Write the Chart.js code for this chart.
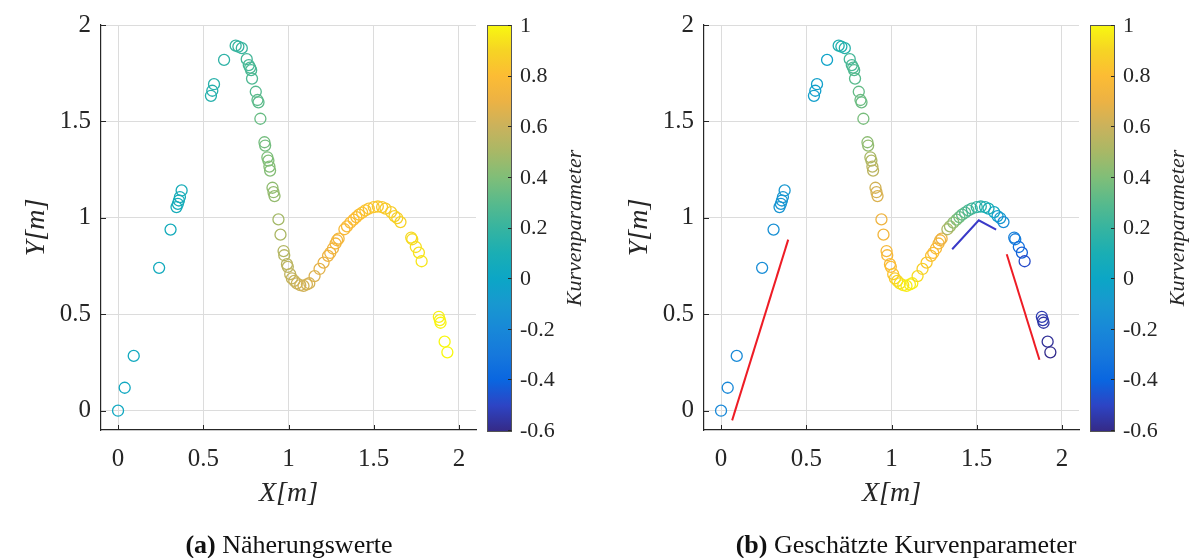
<!DOCTYPE html>
<html>
<head>
<meta charset="utf-8">
<script src="https://cdn.jsdelivr.net/npm/chart.js@4/dist/chart.umd.min.js"></script>
<style>
  body { margin: 0; background: #fff; width: 1194px; height: 558px; overflow: hidden; position: relative; font-family: "Liberation Serif", serif; }
  .panel { position: absolute; top: 0; width: 591px; height: 558px; }
  .cap { position: absolute; top: 530px; font-size: 26px; color: #111; white-space: nowrap; transform: translateX(-50%); }
</style>
</head>
<body>
<div class="panel" style="left:0"><canvas id="chartA" width="591" height="558"></canvas></div>
<div class="panel" style="left:603px"><canvas id="chartB" width="591" height="558"></canvas></div>
<div class="cap" style="left:289px"><b>(a)</b> Näherungswerte</div>
<div class="cap" style="left:906px"><b>(b)</b> Geschätzte Kurvenparameter</div>
<script>
// measured points (same positions in both panels)
const xVals = [0, 0.039, 0.092, 0.241, 0.308, 0.343, 0.351, 0.357, 0.363, 0.373,
  0.545, 0.553, 0.563, 0.622, 0.69, 0.706, 0.726,
  0.755, 0.767, 0.775, 0.781, 0.786, 0.808, 0.818, 0.824, 0.835,
  0.859, 0.863, 0.876, 0.882, 0.888, 0.892, 0.906, 0.912, 0.918,
  0.941, 0.953, 0.971, 0.975, 0.991, 0.996, 1.01, 1.02, 1.034, 1.049, 1.069, 1.088, 1.108, 1.122,
  1.153, 1.182, 1.206, 1.232, 1.245, 1.261, 1.276, 1.285, 1.294,
  1.328, 1.343, 1.363, 1.382, 1.398, 1.414, 1.432, 1.451, 1.471, 1.5, 1.524, 1.549, 1.569, 1.602, 1.622, 1.638, 1.657,
  1.72, 1.726, 1.747, 1.765, 1.781,
  1.882, 1.888, 1.892, 1.916, 1.932];
const yVals = [0, 0.119, 0.284, 0.741, 0.939, 1.056, 1.073, 1.09, 1.108, 1.142,
  1.633, 1.659, 1.693, 1.819, 1.893, 1.888, 1.88,
  1.823, 1.792, 1.779, 1.766, 1.722, 1.654, 1.611, 1.599, 1.514,
  1.392, 1.375, 1.314, 1.297, 1.266, 1.245, 1.156, 1.133, 1.113,
  0.992, 0.913, 0.828, 0.806, 0.76, 0.746, 0.708, 0.686, 0.673, 0.66, 0.651, 0.647, 0.655, 0.661,
  0.698, 0.735, 0.768, 0.803, 0.818, 0.841, 0.867, 0.884, 0.892,
  0.941, 0.956, 0.975, 0.991, 1.004, 1.017, 1.027, 1.039, 1.048, 1.056, 1.059, 1.056, 1.048, 1.03, 1.009, 0.999, 0.978,
  0.898, 0.889, 0.849, 0.82, 0.775,
  0.487, 0.47, 0.456, 0.358, 0.303];
// curve parameter, (a) approximations
const paramA = [0.03, 0.03, 0.04, 0.05, 0.06, 0.07, 0.07, 0.07, 0.08, 0.08,
  0.14, 0.14, 0.15, 0.17, 0.2, 0.2, 0.21,
  0.24, 0.25, 0.26, 0.26, 0.27, 0.29, 0.31, 0.31, 0.34,
  0.37, 0.37, 0.39, 0.4, 0.41, 0.41, 0.44, 0.45, 0.45,
  0.49, 0.51, 0.53, 0.54, 0.55, 0.56, 0.57, 0.58, 0.59, 0.6, 0.61, 0.62, 0.63, 0.63,
  0.65, 0.67, 0.69, 0.71, 0.72, 0.73, 0.74, 0.75, 0.75,
  0.77, 0.78, 0.79, 0.8, 0.8, 0.81, 0.82, 0.83, 0.83, 0.84, 0.85, 0.85, 0.86, 0.87, 0.88, 0.88, 0.89,
  0.91, 0.92, 0.93, 0.94, 0.95,
  0.98, 0.98, 0.99, 1.0, 1.0];
// curve parameter, (b) estimates
const paramB = [-0.2, -0.2, -0.19, -0.17, -0.15, -0.12, -0.12, -0.11, -0.11, -0.1,
  -0.05, -0.05, -0.04, -0.02, 0.12, 0.13, 0.15,
  0.24, 0.26, 0.27, 0.28, 0.3, 0.33, 0.35, 0.35, 0.38,
  0.43, 0.45, 0.5, 0.52, 0.55, 0.56, 0.62, 0.63, 0.65,
  0.72, 0.74, 0.76, 0.77, 0.79, 0.8, 0.83, 0.86, 0.9, 0.93, 0.95, 0.97, 0.98, 0.97,
  0.92, 0.88, 0.85, 0.82, 0.8, 0.78, 0.76, 0.73, 0.7,
  0.52, 0.48, 0.44, 0.4, 0.36, 0.33, 0.3, 0.27, 0.24, 0.2, 0.16, 0.12, 0.09, 0.02, -0.05, -0.1, -0.18,
  -0.25, -0.27, -0.35, -0.42, -0.48,
  -0.53, -0.54, -0.55, -0.57, -0.59];
// estimated tangent segments in (b)
const redLine1X = [0.065, 0.394], redLine1Y = [-0.05, 0.887];
const blueLineX = [1.356, 1.512, 1.614], blueLineY = [0.837, 0.987, 0.939];
const redLine2X = [1.676, 1.868], redLine2Y = [0.811, 0.264];

const xTicks = [0, 0.5, 1, 1.5, 2];
const yTicks = [0, 0.5, 1, 1.5, 2];
const cbTicks = [1, 0.8, 0.6, 0.4, 0.2, 0, -0.2, -0.4, -0.6];
const cbLabels = ['1', '0.8', '0.6', '0.4', '0.2', '0', '-0.2', '-0.4', '-0.6'];

// colour map (parula-like, as in the colour bar)
const cmap = [[-0.6, '#352a87'], [-0.5, '#2d44c4'], [-0.4, '#0a66e0'], [-0.3, '#1678dc'], [-0.2, '#1888d8'],
  [-0.1, '#1898d0'], [0, '#0ca6c6'], [0.1, '#1aaeb4'], [0.2, '#36b4a0'], [0.3, '#58ba8c'], [0.4, '#80be78'],
  [0.5, '#a8b866'], [0.6, '#cab25c'], [0.7, '#ecb244'], [0.8, '#fcbc34'], [0.9, '#f6d424'], [1.0, '#f8f810']];

function hexRgb(h) { return [1, 3, 5].map(i => parseInt(h.substr(i, 2), 16)); }
function colorOf(v) {
  for (let i = 0; i < cmap.length - 1; i++) {
    const [v0, c0] = cmap[i], [v1, c1] = cmap[i + 1];
    if (v <= v1 || i === cmap.length - 2) {
      const t = Math.max(0, Math.min(1, (v - v0) / (v1 - v0)));
      const a = hexRgb(c0), b = hexRgb(c1);
      return 'rgb(' + a.map((k, j) => Math.round(k + (b[j] - k) * t)).join(',') + ')';
    }
  }
}

const INK = '#262626';
const tickFont = { family: 'Liberation Serif', size: 25 };

const decor = {
  id: 'decor',
  afterDraw(chart) {
    const { ctx, chartArea: a, scales: { x, y, c } } = chart;
    ctx.save();
    ctx.strokeStyle = INK;
    ctx.lineWidth = 1;
    // inward tick marks
    yTicks.forEach(v => {
      const p = Math.round(y.getPixelForValue(v)) + 0.5;
      ctx.beginPath(); ctx.moveTo(a.left, p); ctx.lineTo(a.left + 5, p); ctx.stroke();
    });
    xTicks.forEach(v => {
      const p = Math.round(x.getPixelForValue(v)) + 0.5;
      ctx.beginPath(); ctx.moveTo(p, a.bottom); ctx.lineTo(p, a.bottom - 5); ctx.stroke();
    });
    // colour bar
    const bx = a.right + 11, bw = 24;
    const top = c.getPixelForValue(1), bot = c.getPixelForValue(-0.6) + 1;
    const g = ctx.createLinearGradient(0, bot, 0, top);
    cmap.forEach(([v, col]) => g.addColorStop((v + 0.6) / 1.6, col));
    ctx.fillStyle = g;
    ctx.fillRect(bx, top, bw, bot - top);
    ctx.strokeStyle = '#555';
    ctx.strokeRect(bx + 0.5, top + 0.5, bw, bot - top);
    ctx.fillStyle = INK;
    ctx.font = '22px "Liberation Serif"';
    ctx.textAlign = 'left';
    ctx.textBaseline = 'middle';
    cbTicks.forEach((v, i) => {
      const p = c.getPixelForValue(v);
      ctx.strokeStyle = INK;
      ctx.beginPath(); ctx.moveTo(bx + bw - 3, Math.round(p) + 0.5); ctx.lineTo(bx + bw + 0.5, Math.round(p) + 0.5); ctx.stroke();
      ctx.fillText(cbLabels[i], bx + bw + 9, p + 1);
    });
    ctx.translate(bx + bw + 64, (top + bot) / 2);
    ctx.rotate(-Math.PI / 2);
    ctx.textAlign = 'center';
    ctx.font = 'italic 22px "Liberation Serif"';
    ctx.fillText('Kurvenparameter', 0, 0);
    ctx.restore();
  }
};

function pts(xs, ys) { return xs.map((v, i) => ({ x: v, y: ys[i] })); }

function makeChart(id, params, extra) {
  const datasets = [{
    data: pts(xVals, yVals),
    pointRadius: 5.5,
    pointBorderWidth: 1.3,
    pointBackgroundColor: 'rgba(0,0,0,0)',
    pointBorderColor: params.map(colorOf),
    showLine: false
  }].concat(extra);
  return new Chart(document.getElementById(id), {
    type: 'scatter',
    data: { datasets },
    plugins: [decor],
    options: {
      responsive: false,
      animation: false,
      events: [],
      layout: { padding: { left: 0, top: 24, right: 115, bottom: 0 } },
      plugins: { legend: { display: false }, tooltip: { enabled: false } },
      scales: {
        x: {
          type: 'linear', min: -0.1, max: 2.1,
          afterBuildTicks: s => { s.ticks = xTicks.map(v => ({ value: v })); },
          afterFit: s => { s.height = 128; },
          grid: { color: '#dcdcdc', drawTicks: false },
          border: { color: INK, width: 1.2 },
          ticks: { font: tickFont, color: INK, padding: 14, maxRotation: 0, callback: v => String(v) },
          title: { display: true, text: 'X[m]', color: INK, padding: { top: 0, bottom: 48 },
            font: { family: 'Liberation Serif', size: 28, style: 'italic' } }
        },
        y: {
          type: 'linear', min: -0.1, max: 2,
          afterBuildTicks: s => { s.ticks = yTicks.map(v => ({ value: v })); },
          afterFit: s => { s.width = 101; },
          grid: { color: '#dcdcdc', drawTicks: false },
          border: { color: INK, width: 1.2 },
          ticks: { font: tickFont, color: INK, padding: 10, callback: v => String(v) },
          title: { display: true, text: 'Y[m]', color: INK, padding: { top: 20, bottom: 0 },
            font: { family: 'Liberation Serif', size: 28, style: 'italic' } }
        },
        c: { type: 'linear', position: 'right', display: false, min: -0.6, max: 1 }
      }
    }
  });
}

const lineStyle = { showLine: true, pointRadius: 0, borderWidth: 2, fill: false };
makeChart('chartA', paramA, []);
makeChart('chartB', paramB, [
  Object.assign({ data: pts(redLine1X, redLine1Y), borderColor: '#ee1c25' }, lineStyle),
  Object.assign({ data: pts(blueLineX, blueLineY), borderColor: '#3a3ac8' }, lineStyle),
  Object.assign({ data: pts(redLine2X, redLine2Y), borderColor: '#ee1c25' }, lineStyle)
]);
</script>
</body>
</html>
